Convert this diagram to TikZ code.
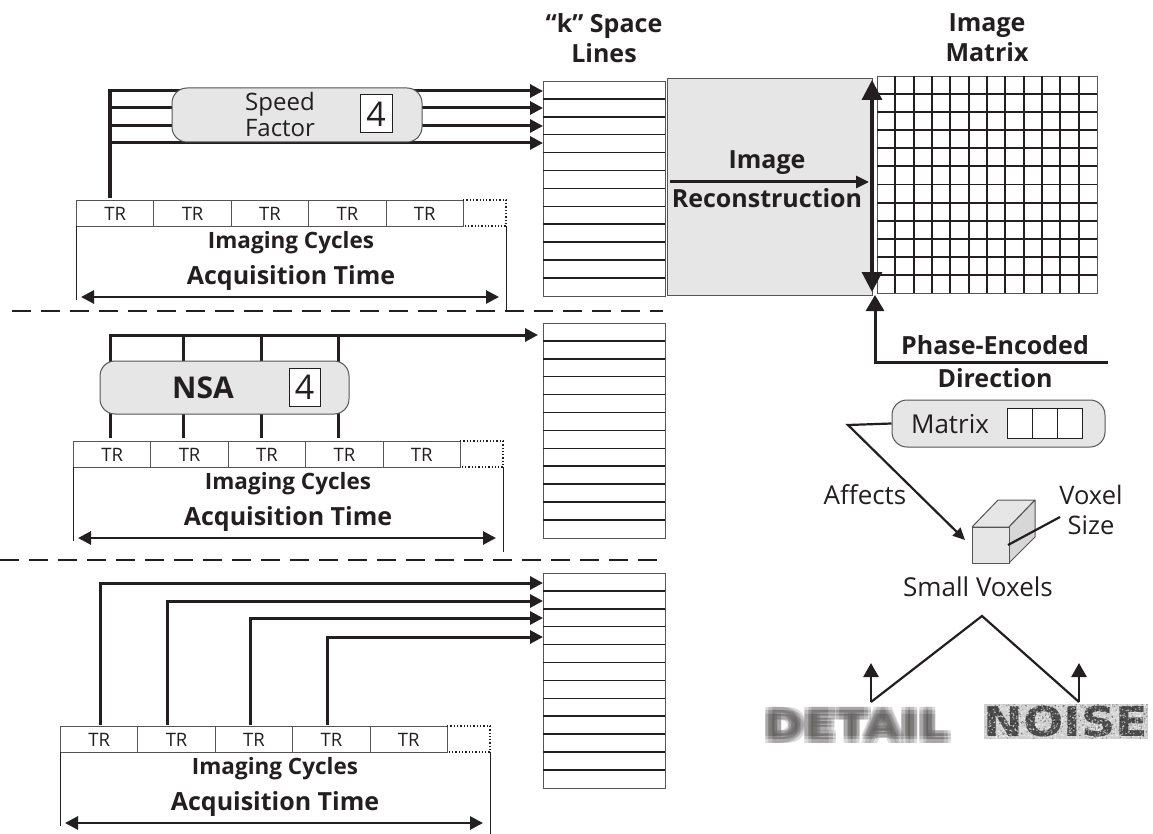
\documentclass[tikz,border=0pt]{standalone}
\usepackage{fontspec}
\setmainfont{Open Sans}
\newfontfamily\heavyfont{DejaVu Sans}
\usetikzlibrary{arrows.meta,calc}
\definecolor{ink}{HTML}{231F20}
\definecolor{boxgray}{HTML}{E6E6E6}
\definecolor{edgegray}{HTML}{555555}
\begin{document}
\begin{tikzpicture}[x=1pt,y=-1pt,
  thickline/.style={draw=ink, line width=3pt},
  arr/.style={-{Triangle[length=13pt,width=13pt]}},
  dblarr/.style={draw=ink, line width=2.8pt, {Triangle[length=13pt,width=13pt]}-{Triangle[length=13pt,width=13pt]}},
  thinline/.style={draw=ink, line width=1pt},
  trcell/.style={draw=edgegray, line width=1pt, minimum width=77.4pt, minimum height=26pt, inner sep=0pt, anchor=north west, text=ink, font=\fontsize{18.5}{20}\selectfont},
  cyc/.style={text=ink, font=\bfseries\fontsize{22.5}{24}\selectfont},
  acq/.style={text=ink, font=\bfseries\fontsize{25}{27}\selectfont},
  head/.style={text=ink, align=center, font=\bfseries\fontsize{25}{30}\selectfont},
  roundbox/.style={draw=edgegray, fill=boxgray, line width=1pt, rounded corners=15pt, inner sep=0pt},
  numbox/.style={draw=ink, fill=white, line width=1pt, inner sep=0pt, text=ink, font=\fontsize{34}{34}\selectfont},
  plain/.style={text=ink, font=\fontsize{26}{29}\selectfont, align=center},
  kline/.style={draw=ink, line width=1.5pt},
  dashsep/.style={draw=ink, line width=2.8pt, dash pattern=on 19pt off 10pt}
]
\useasboundingbox (0,0) rectangle (1153,834);

% ---------- dashed separators
\coordinate (d1a) at (12,311); \coordinate (d1b) at (663,311);
\coordinate (d2a) at (0,560); \coordinate (d2b) at (663,560);
\draw[dashsep] (d1a) -- (d1b);
\draw[dashsep] (d2a) -- (d2b);

% ---------- TR rows and time labels
\foreach \x/\y/\n in {76/200/a,73/441/b,60/726/c}{
  \foreach \k in {0,...,4}{
    \node[trcell] (\n-tr\k) at ({\x+\k*77.4},\y) {TR};
  }
  \coordinate (\n-dl) at ({\x+5*77.4},\y);
  \draw[draw=ink, line width=1.3pt, dotted] (\n-dl) -- ++(43,0) -- ++(0,26) -- ++(-43,0);
  \node[cyc] (\n-ic) at ({\x+215},{\y+43}) {Imaging Cycles};
  \node[acq] (\n-at) at ({\x+215},{\y+78}) {Acquisition Time};
  \coordinate (\n-l1) at (\x,{\y+26}); \coordinate (\n-l2) at (\x,{\y+100});
  \coordinate (\n-r1) at ({\x+430},{\y+26}); \coordinate (\n-r2) at ({\x+430},{\y+111});
  \draw[thinline] (\n-l1) -- (\n-l2);
  \draw[thinline] (\n-r1) -- (\n-r2);
  \coordinate (\n-a1) at ({\x+5},{\y+97}); \coordinate (\n-a2) at ({\x+423},{\y+97});
  \draw[dblarr] (\n-a1) -- (\n-a2);
}

% ---------- k-space boxes
\foreach \y/\n in {81/ka,323/kb,573/kc}{
  \node[draw=edgegray, line width=1.2pt, fill=white, minimum width=122pt, minimum height=214.8pt, inner sep=0pt, anchor=north west] (\n) at (543,\y) {};
  \foreach \r in {1,...,11}{
    \draw[kline] (543,{\y+\r*17.9}) -- (665,{\y+\r*17.9});
  }
}

% ---------- top section: speed factor
\coordinate (sf0) at (110,198);
\coordinate (sf1) at (110,89);
\draw[draw=ink, line width=4pt] (sf0) -- (sf1);
\foreach \yy in {91,108,126,143}{
  \coordinate (sfs\yy) at (110,\yy);
  \coordinate (sfe\yy) at (543,\yy);
  \draw[thickline,arr] (sfs\yy) -- (sfe\yy);
}
\node[roundbox, minimum width=250pt, minimum height=54pt] (speed) at (297,115) {};
\node[plain, font=\fontsize{24}{26}\selectfont] (speedt) at (280,115) {Speed\\Factor};
\node[numbox, minimum width=32pt, minimum height=38pt] (sf4) at (376,114) {4};

% ---------- middle section: NSA
\coordinate (ns0) at (110,438); \coordinate (ns1) at (110,335); \coordinate (ns2) at (538,335);
\draw[thickline,arr] (ns0) -- (ns1) -- (ns2);
\foreach \xx in {183,261,338}{
  \coordinate (nv\xx a) at (\xx,438); \coordinate (nv\xx b) at (\xx,335);
  \draw[thickline] (nv\xx a) -- (nv\xx b);
}
\node[roundbox, minimum width=249pt, minimum height=53pt] (nsa) at (224.5,387.5) {};
\node[text=ink, font=\bfseries\fontsize{30}{34}\selectfont] (nsat) at (203,388) {NSA};
\node[numbox, minimum width=31pt, minimum height=38pt] (ns4) at (304.5,387) {4};

% ---------- bottom section: separate TRs
\foreach \xx/\yy in {100/583,167/601,250/618,327/637}{
  \coordinate (bs\xx) at (\xx,725);
  \coordinate (bm\xx) at (\xx,\yy);
  \coordinate (be\xx) at (543,\yy);
  \draw[thickline,arr] (bs\xx) -- (bm\xx) -- (be\xx);
}

% ---------- headings
\node[head] (khead) at (604,38) {“k” Space\\Lines};
\node[head] (mhead) at (987,38) {Image\\Matrix};

% ---------- reconstruction box
\node[draw=edgegray, fill=boxgray, line width=1.2pt, minimum width=205pt, minimum height=217pt, inner sep=0pt, anchor=north west] (recon) at (667,78) {};
\node[acq] (recont1) at (767,163) {Image};
\node[acq] (recont2) at (767,198) {Reconstruction};
\coordinate (ra1) at (670,182); \coordinate (ra2) at (869,182);
\draw[thickline, -{Triangle[length=13pt,width=12pt]}] (ra1) -- (ra2);

% ---------- image matrix grid
\node[draw=edgegray, line width=1.4pt, minimum width=220pt, minimum height=217pt, inner sep=0pt, anchor=north west] (grid) at (877,76) {};
\foreach \i in {1,...,11}{
  \draw[draw=ink, line width=1.9pt] ({877+\i*18.333},76) -- ({877+\i*18.333},293);
  \draw[draw=ink, line width=1.9pt] (877,{76+\i*18.083}) -- (1097,{76+\i*18.083});
}
\coordinate (pv1) at (872,80); \coordinate (pv2) at (872,292);
\draw[draw=ink, line width=3.2pt, {Triangle[length=20pt,width=20pt]}-{Triangle[length=20pt,width=20pt]}] (pv1) -- (pv2);

% ---------- phase encoded direction
\coordinate (pe0) at (875,295); \coordinate (pe1) at (875,362); \coordinate (pe2) at (1108,362);
\draw[thickline, {Triangle[length=16pt,width=18pt]}-] (pe0) -- (pe1) -- (pe2);
\node[text=ink, font=\bfseries\fontsize{25}{28}\selectfont] (pet1) at (995,345) {Phase-Encoded};
\node[text=ink, font=\bfseries\fontsize{25}{28}\selectfont] (pet2) at (995,378) {Direction};

% ---------- matrix box
\node[roundbox, minimum width=213pt, minimum height=47pt] (mat) at (998.5,423.5) {};
\node[plain] (matt) at (950,424) {Matrix};
\foreach \cx in {1007,1032,1057}{
  \node[draw=ink, fill=white, line width=1pt, minimum width=25pt, minimum height=30pt, inner sep=0pt, anchor=north west] (mc\cx) at (\cx,408) {};
}
\coordinate (af1) at (848,425); \coordinate (af2) at (965,540);
\draw[draw=ink, line width=2.2pt, -{Triangle[length=12pt,width=11pt]}] (mat.west) -- (af1) -- (af2);
\node[plain] (afft) at (865,495) {Affects};

% ---------- voxel cube
\coordinate (c1) at (972,527); \coordinate (c2) at (1009,527);
\coordinate (c3) at (1009,563); \coordinate (c4) at (972,563);
\coordinate (c5) at (998,500); \coordinate (c6) at (1035,500); \coordinate (c7) at (1035,537);
\draw[draw=edgegray, fill=boxgray, line width=1pt, line join=round] (c1) -- (c5) -- (c6) -- (c2) -- cycle;
\draw[draw=edgegray, fill=boxgray!85!gray, line width=1pt, line join=round] (c2) -- (c6) -- (c7) -- (c3) -- cycle;
\draw[draw=edgegray, fill=boxgray, line width=1pt] (c1) rectangle (c3);
\coordinate (vs1) at (1008,545); \coordinate (vs2) at (1060,517);
\draw[draw=ink, line width=2.2pt] (vs1) -- (vs2);
\node[plain, font=\fontsize{25.5}{30}\selectfont] (voxt) at (1091,510) {Voxel\\Size};
\node[plain, font=\fontsize{26}{30}\selectfont] (smallv) at (978,587) {Small Voxels};

% ---------- V to detail / noise
\coordinate (v0) at (982,616); \coordinate (vl) at (871,702); \coordinate (vr) at (1079,702);
\coordinate (vlt) at (871,663); \coordinate (vrt) at (1079,663);
\draw[draw=ink, line width=2.2pt, line join=miter] (vl) -- (v0) -- (vr);
\draw[draw=ink, line width=2.8pt, -{Triangle[length=14pt,width=15pt]}] (vl) -- (vlt);
\draw[draw=ink, line width=2.8pt, -{Triangle[length=14pt,width=15pt]}] (vr) -- (vrt);

% ---------- DETAIL (blurred)
\foreach \dx in {-3.5,0,3.5}{
  \foreach \dy in {-3.5,0,3.5}{
    \node[text=ink!80, opacity=0.2, font=\heavyfont\bfseries\fontsize{40}{40}\selectfont, inner sep=0pt] at ({857+\dx},{725+\dy}) {\scalebox{1.18}[1]{DETAIL}};
  }
}
\node[inner sep=0pt] (detail) at (857,725) {};

% ---------- NOISE (noisy)
\node[fill=gray!38, minimum width=164pt, minimum height=35pt, inner sep=0pt] (noise) at (1066,721.5) {};
\node[text=gray!60!black, font=\heavyfont\bfseries\fontsize{41}{41}\selectfont, inner sep=0pt] (noiset) at (1066,722) {\scalebox{1.16}[1]{NOISE}};
\pgfmathsetseed{7}
\foreach \i in {1,...,700}{
  \fill[white, opacity=0.55] ({1066+rand*81},{721.5+rand*17}) circle (0.8pt);
}
\foreach \i in {1,...,400}{
  \fill[black, opacity=0.35] ({1066+rand*81},{721.5+rand*17}) circle (0.7pt);
}
\end{tikzpicture}
\end{document}
